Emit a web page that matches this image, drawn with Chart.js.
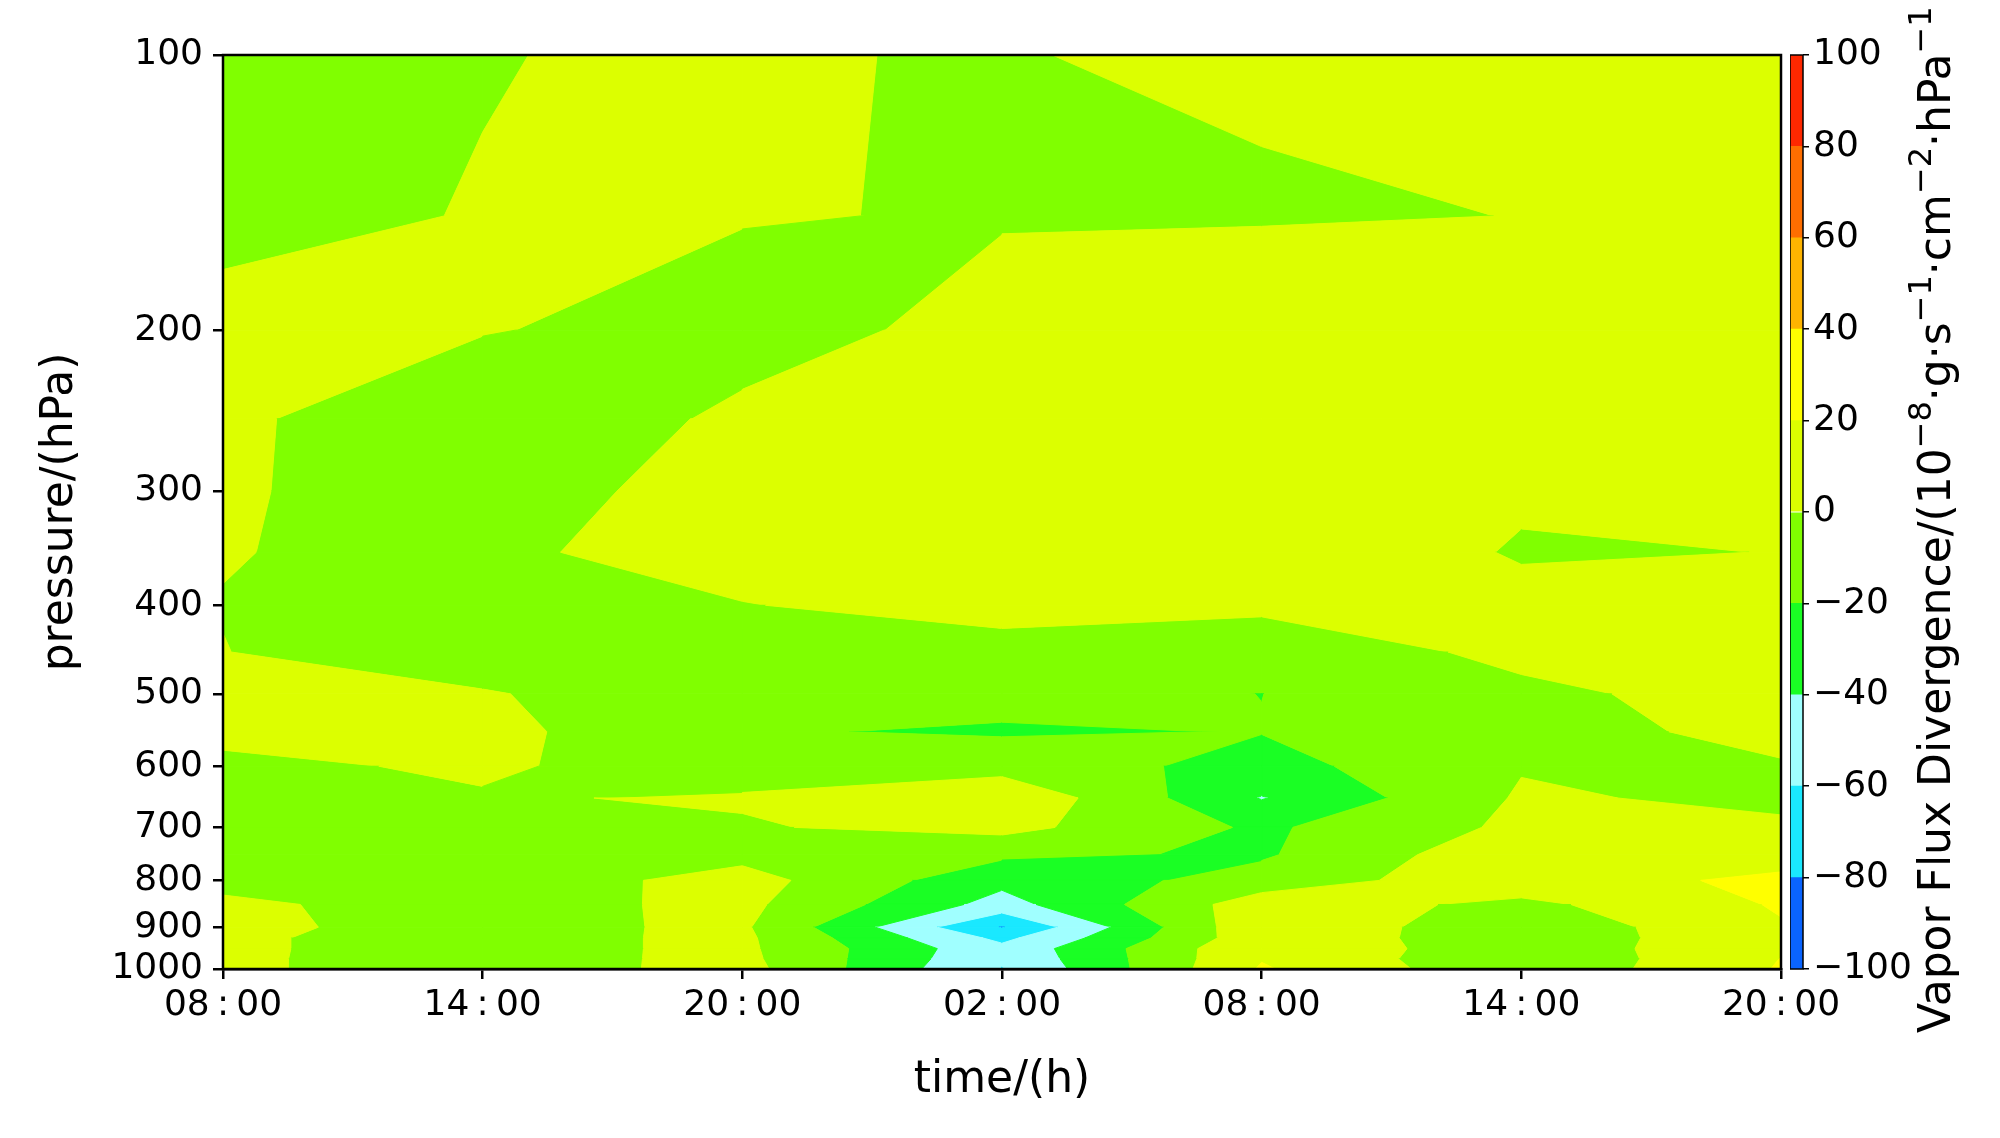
<!DOCTYPE html>
<html>
<head>
<meta charset="utf-8">
<script src="https://cdn.jsdelivr.net/npm/chart.js@4.4.1/dist/chart.umd.min.js"></script>
<style>
  html, body { margin: 0; padding: 0; background: #fff; }
  #wrap { position: relative; width: 2000px; height: 1138px; }
  #main { position: absolute; left: 0; top: 0; }
  #cbar { position: absolute; left: 1790px; top: 0; }
</style>
</head>
<body>
<div id="wrap">
  <canvas id="main" width="2000" height="1138"></canvas>
  <canvas id="cbar" width="210" height="1138"></canvas>
</div>
<script>
// time axis (hours since first 08:00) and tick labels
const times = [0, 6, 12, 18, 24, 30, 36];
const timeLabels = ["08:00", "14:00", "20:00", "02:00", "08:00", "14:00", "20:00"];

// pressure levels (hPa) and y tick values
const pressures = [100, 150, 200, 250, 300, 350, 400, 450, 500, 550, 600, 650, 700, 750, 800, 850, 900, 925, 950, 975, 1000];
const pressureTicks = [100, 200, 300, 400, 500, 600, 700, 800, 900, 1000];

// vapor flux divergence at each level, one value per time
const p100  = [-0.3, -0.03, 0.14, -0.13, 0.54, 0.5, 0.4];
const p150  = [-0.23, 0.04, 0.1, -0.12, -0.5, 0.06, 0.3];
const p200  = [0.3, 0.13, -0.9, 0.75, 5.8, 2, 1];
const p250  = [0.52, -2, 0.5, 4, 8, 2, 2];
const p300  = [0.68, -3, 2.8, 6, 9, 1.5, 2];
const p350  = [0.44, -3, 7, 7, 9, -1, 0.14];
const p400  = [-0.32, -3, -0.6, 6.1, 2.6, 3.6, 2];
const p450  = [0.23, -7, -6, -6.6, -8.4, 3.3, 4];
const p500  = [3, 0.95, -7.9, -14.3, -20.15, -3, 5.6];
const p550  = [3.3, 6.1, -18.6, -22, -19.4, -5, 3.8];
const p600  = [-3, 2, -7.3, -8, -27.3, -1.2, -1.2];
const p650  = [-4, -1.2, 1.6, 17, -41, 2.3, -3.9];
const p700  = [-4, -4, -1.5, 6, -23.3, 4.2, 3];
const p750  = [-4, -5, -5.8, -16.3, -22.5, 15, 14.2];
const p800  = [-5.1, -13, 8, -34.8, -11, 13.3, 23];
const p850  = [3.4, -8, 5, -47.7, 11, -5.2, 22];
const p900  = [2.9, -5, 3, -81, 17, -14.5, 18.3];
const p925  = [2.3, -6.5, 4, -65, 13.4, -11.9, 14];
const p950  = [2.3, -6.5, 4, -54.6, 17.8, -14, 18];
const p975  = [2.7, -8, 5, -57, 19, -17, 20.3];
const p1000 = [3.7, -11, 7, -61, 22, -16.2, 21.5];

// contour levels and fill colours
const levels = [-100, -80, -60, -40, -20, 0, 20, 40, 60, 80, 100];
const bandColors = ["#0a64ff", "#1ae8ff", "#a0ffff", "#1aff24", "#80ff00", "#dcff00", "#ffff00", "#ffb400", "#ff6e00", "#ff2800"];

const gridRows = [p100, p150, p200, p250, p300, p350, p400, p450, p500, p550, p600, p650, p700, p750, p800, p850, p900, p925, p950, p975, p1000];

const FONT = "'DejaVu Sans', sans-serif";

// a cell is ambiguous when corners alternate above/below some level
function isSaddle(c) {
    return levels.some(L => {
        const s = c.map(q => q.v >= L);
        return s[0] === s[2] && s[1] === s[3] && s[0] !== s[1];
    });
}

function bandOf(v) {
    for (let k = 0; k < bandColors.length; k++) {
        if (v < levels[k + 1]) return k;
    }
    return bandColors.length - 1;
}

// fill one level band of a cell (values linear along its edges)
function fillBand(ctx, x, y, poly, k) {
    const n = poly.length;
    const lo = levels[k], hi = levels[k + 1];
    const pts = [];
    for (let e = 0; e < n; e++) {
        const a = poly[e], b = poly[(e + 1) % n];
        if (a.v >= lo && (a.v < hi || (k === bandColors.length - 1 && a.v <= hi))) pts.push(a);
        const cross = [];
        [lo, hi].forEach(L => {
            if ((a.v - L) * (b.v - L) < 0) {
                const f = (L - a.v) / (b.v - a.v);
                cross.push({ f: f, t: a.t + f * (b.t - a.t), p: a.p + f * (b.p - a.p) });
            }
        });
        cross.sort((m, q) => m.f - q.f).forEach(c => pts.push(c));
    }
    if (pts.length < 3) return;
    ctx.beginPath();
    pts.forEach((q, i) => {
        const px = x.getPixelForValue(q.t);
        const py = y.getPixelForValue(q.p);
        if (i === 0) ctx.moveTo(px, py); else ctx.lineTo(px, py);
    });
    ctx.closePath();
    ctx.fillStyle = bandColors[k];
    ctx.strokeStyle = bandColors[k];
    ctx.fill();
    ctx.stroke();
}

// filled contours over the time / pressure grid
const contourPlugin = {
    id: "contourFill",
    beforeDatasetsDraw(chart) {
        const { ctx, chartArea, scales: { x, y } } = chart;
        ctx.save();
        ctx.beginPath();
        ctx.rect(chartArea.left, chartArea.top, chartArea.width, chartArea.height);
        ctx.clip();
        ctx.lineWidth = 1;
        ctx.lineJoin = "round";

        for (let j = 0; j < pressures.length - 1; j++) {
            for (let i = 0; i < times.length - 1; i++) {
                const c = [
                    { t: times[i], p: pressures[j], v: gridRows[j][i] },
                    { t: times[i + 1], p: pressures[j], v: gridRows[j][i + 1] },
                    { t: times[i + 1], p: pressures[j + 1], v: gridRows[j + 1][i + 1] },
                    { t: times[i], p: pressures[j + 1], v: gridRows[j + 1][i] }
                ];
                const order = bandColors.map((_, k) => k);
                if (isSaddle(c)) {
                    // the band holding the cell centre is drawn last, so it joins across
                    const kc = bandOf((c[0].v + c[1].v + c[2].v + c[3].v) / 4);
                    order.sort((a, b) => Math.abs(b - kc) - Math.abs(a - kc));
                }
                order.forEach(k => fillBand(ctx, x, y, c, k));
            }
        }
        ctx.restore();
    }
};

// black frame round the plot / colorbar
const framePlugin = {
    id: "frame",
    afterDraw(chart, args, opts) {
        const { ctx, chartArea } = chart;
        ctx.save();
        ctx.strokeStyle = "#000";
        ctx.lineWidth = opts.width || 2;
        ctx.strokeRect(chartArea.left, chartArea.top, chartArea.width, chartArea.height);
        ctx.restore();
    }
};

const gridPoints = [];
pressures.forEach((p, j) => times.forEach((t, i) => gridPoints.push({ x: t, y: p, v: gridRows[j][i] })));

new Chart(document.getElementById("main"), {
    type: "scatter",
    data: {
        datasets: [{ data: gridPoints, pointRadius: 0, showLine: false }]
    },
    options: {
        responsive: false,
        animation: false,
        devicePixelRatio: 1,
        layout: { padding: { top: 55, right: 219, left: 0, bottom: 0 } },
        plugins: {
            legend: { display: false },
            tooltip: { enabled: false },
            frame: { width: 2.5 }
        },
        scales: {
            x: {
                type: "linear",
                min: 0,
                max: 36,
                afterBuildTicks: s => { s.ticks = times.map(v => ({ value: v })); },
                afterFit: s => { s.height = 169; },
                ticks: {
                    // colon spaced like the original mathtext labels
                    callback: v => timeLabels[times.indexOf(v)].replace(":", "\u2009:\u2009"),
                    font: { family: FONT, size: 36 },
                    color: "#000",
                    padding: 5,
                    maxRotation: 0,
                    autoSkip: false
                },
                grid: { drawOnChartArea: false, color: "#000", lineWidth: 2.5, tickLength: 10 },
                border: { display: true, color: "#000", width: 2.5 },
                title: {
                    display: true,
                    text: "time/(h)",
                    font: { family: FONT, size: 44 },
                    color: "#000",
                    padding: { top: 0, bottom: 31 }
                }
            },
            y: {
                type: "logarithmic",
                min: 100,
                max: 1000,
                reverse: true,
                afterBuildTicks: s => { s.ticks = pressureTicks.map(v => ({ value: v })); },
                afterFit: s => { s.width = 223; },
                ticks: {
                    callback: v => String(v),
                    font: { family: FONT, size: 36 },
                    color: "#000",
                    padding: 10,
                    autoSkip: false
                },
                grid: { drawOnChartArea: false, color: "#000", lineWidth: 2.5, tickLength: 10 },
                border: { display: true, color: "#000", width: 2.5 },
                title: {
                    display: true,
                    text: "pressure/(hPa)",
                    font: { family: FONT, size: 44 },
                    color: "#000",
                    padding: { top: 34, bottom: 0 }
                }
            }
        }
    },
    plugins: [contourPlugin, framePlugin]
});

// colorbar label, reading bottom to top, with raised exponents
const cbarLabel = [
    ["Vapor Flux Divergence/(10", false], ["\u22128", true],
    ["\u00B7g\u00B7s", false], ["\u22121", true],
    ["\u00B7cm", false], ["\u22122", true],
    ["\u00B7hPa", false], ["\u22121", true]
];

const cbarTitlePlugin = {
    id: "cbarTitle",
    afterDraw(chart) {
        const ctx = chart.ctx;
        ctx.save();
        ctx.translate(149, 1033);
        ctx.rotate(-Math.PI / 2);
        ctx.fillStyle = "#000";
        ctx.textAlign = "left";
        ctx.textBaseline = "middle";
        let pos = 0;
        cbarLabel.forEach(([txt, sup]) => {
            ctx.font = (sup ? "32px " : "44px ") + FONT;
            ctx.fillText(txt, pos, sup ? -16 : 0);
            pos += ctx.measureText(txt).width;
        });
        ctx.restore();
    }
};

new Chart(document.getElementById("cbar"), {
    type: "bar",
    data: {
        labels: [""],
        datasets: bandColors.map((c, k) => ({
            data: [[levels[k], levels[k + 1]]],
            backgroundColor: c,
            borderWidth: 0,
            barPercentage: 1,
            categoryPercentage: 1,
            grouped: false
        }))
    },
    options: {
        responsive: false,
        animation: false,
        devicePixelRatio: 1,
        layout: { padding: { top: 55, bottom: 169, left: 0, right: 0 } },
        plugins: {
            legend: { display: false },
            tooltip: { enabled: false },
            frame: { width: 1.5 }
        },
        scales: {
            x: { display: false },
            y: {
                position: "right",
                min: -100,
                max: 100,
                afterBuildTicks: s => { s.ticks = levels.map(v => ({ value: v })); },
                afterFit: s => { s.width = 197; },
                ticks: {
                    callback: v => (v < 0 ? "\u2212" + Math.abs(v) : String(v)),
                    font: { family: FONT, size: 36 },
                    color: "#000",
                    padding: 4
                },
                grid: { drawOnChartArea: false, color: "#000", lineWidth: 1.5, tickLength: 6 },
                border: { display: false }
            }
        }
    },
    plugins: [framePlugin, cbarTitlePlugin]
});
</script>
</body>
</html>
